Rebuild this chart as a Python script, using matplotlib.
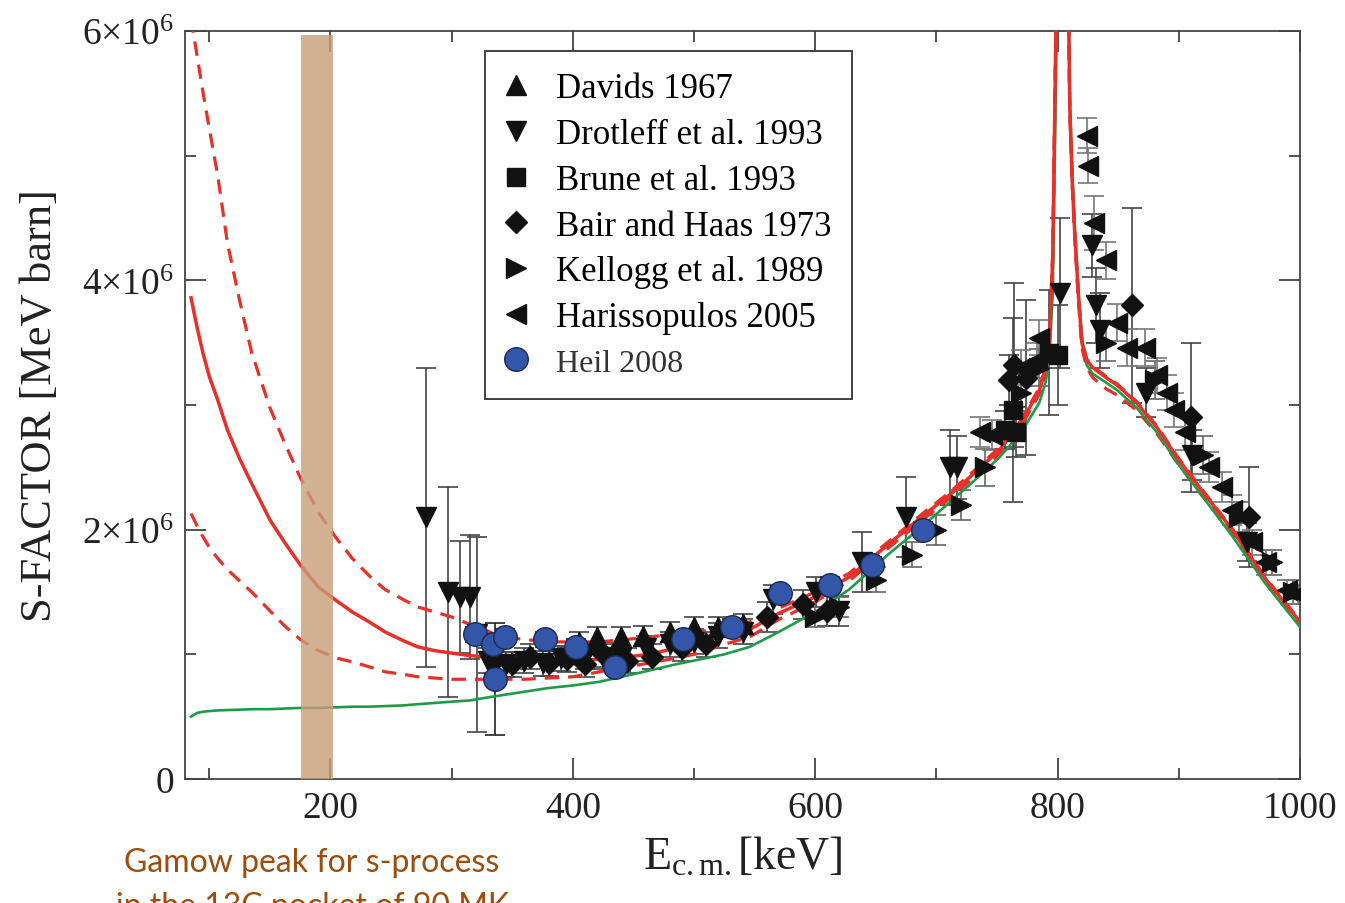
import matplotlib
matplotlib.use("Agg")
import matplotlib.pyplot as plt
from matplotlib.lines import Line2D
from matplotlib.ticker import FixedLocator, FixedFormatter

plt.rcParams['font.family'] = ['Liberation Serif', 'DejaVu Serif']
plt.rcParams['mathtext.fontset'] = 'custom'
plt.rcParams['mathtext.rm'] = 'Liberation Serif'
plt.rcParams['mathtext.it'] = 'Liberation Serif:italic'

# ---- fit curves (S in units of 1e6 MeV barn) ----
E_fit = [85, 90, 95, 100, 107, 115, 125, 135, 150, 162, 175, 190, 205, 218, 232, 245, 260, 272,
         286, 300, 315, 327, 340, 360, 380, 400, 422, 445, 463, 485, 505, 525, 546,
         570, 600, 628, 660, 690, 711, 732, 752, 770, 785, 790, 793, 796, 798, 800,
         804, 808, 810, 812, 814, 817, 820, 824, 829, 840, 849, 865, 882, 900, 917,
         944, 972, 1000]
S_fit = [3.86, 3.62, 3.41, 3.23, 3.04, 2.80, 2.57, 2.37, 2.08, 1.90, 1.72, 1.54, 1.43, 1.34, 1.26, 1.18, 1.11, 1.06,
         1.03, 1.01, 0.99, 0.98, 0.96, 0.95, 0.95, 0.95, 0.96, 0.98, 1.00, 1.05, 1.10, 1.15, 1.20,
         1.33, 1.46, 1.62, 1.88, 2.12, 2.28, 2.46, 2.64, 2.86, 3.12, 3.28, 3.44, 4.20, 5.60, 7.00,
         9.00, 7.00, 5.40, 4.80, 4.40, 3.90, 3.50, 3.36, 3.30, 3.22, 3.16, 3.02, 2.82, 2.56, 2.34,
         2.00, 1.60, 1.26]
S_fit_hi = [6.10, 5.80, 5.50, 5.22, 4.84, 4.30, 3.84, 3.42, 2.98, 2.70, 2.42, 2.14, 1.93, 1.77, 1.63, 1.52, 1.44, 1.38,
            1.34, 1.30, 1.24, 1.20, 1.14, 1.12, 1.10, 1.10, 1.10, 1.12, 1.14, 1.16, 1.18, 1.22, 1.26,
            1.37, 1.50, 1.65, 1.90, 2.14, 2.30, 2.48, 2.66, 2.88, 3.14, 3.30, 3.46, 4.22, 5.62, 7.00,
            9.00, 7.00, 5.42, 4.82, 4.42, 3.92, 3.52, 3.37, 3.31, 3.23, 3.17, 3.03, 2.83, 2.57, 2.35,
            2.01, 1.61, 1.27]
S_fit_lo = [2.13, 2.03, 1.94, 1.86, 1.77, 1.68, 1.59, 1.50, 1.35, 1.23, 1.12, 1.03, 0.97, 0.94, 0.90, 0.86, 0.84, 0.82,
            0.81, 0.80, 0.80, 0.80, 0.80, 0.80, 0.81, 0.82, 0.86, 0.90, 0.93, 0.97, 1.01, 1.08, 1.14,
            1.28, 1.42, 1.59, 1.85, 2.09, 2.25, 2.43, 2.61, 2.83, 3.09, 3.25, 3.41, 4.18, 5.58, 7.00,
            9.00, 7.00, 5.38, 4.78, 4.36, 3.86, 3.46, 3.30, 3.22, 3.13, 3.08, 2.96, 2.77, 2.52, 2.30,
            1.97, 1.57, 1.23]
S_green = [0.50, 0.53, 0.54, 0.545, 0.55, 0.553, 0.556, 0.56, 0.56, 0.565, 0.57, 0.57, 0.575, 0.58, 0.58, 0.585, 0.59, 0.60,
           0.61, 0.62, 0.63, 0.65, 0.67, 0.70, 0.73, 0.75, 0.78, 0.83, 0.87, 0.92, 0.96, 1.00, 1.06,
           1.18, 1.34, 1.52, 1.80, 2.04, 2.22, 2.40, 2.58, 2.78, 3.02, 3.18, 3.34, 3.90, 5.20, 6.80,
           9.00, 7.20, 5.50, 4.90, 4.45, 3.95, 3.55, 3.32, 3.25, 3.18, 3.12, 2.98, 2.78, 2.52, 2.30,
           1.95, 1.56, 1.22]

# ---- data sets ----
davids_E = [405, 420, 440, 458, 480, 500, 520, 540]
davids_S = [1.10, 1.14, 1.14, 1.15, 1.18, 1.22, 1.22, 1.24]
davids_err = [0.08, 0.08, 0.08, 0.08, 0.08, 0.08, 0.08, 0.08]

drot_E = [279, 297, 307, 315, 321, 330, 345, 360, 375, 390, 410, 425, 440, 460, 480, 500,
          520, 540, 565, 601, 620, 639, 675, 711, 717, 802, 828, 832, 835, 873, 911, 956]
drot_S = [2.10, 1.50, 1.46, 1.46, 1.16, 0.95, 0.92, 0.95, 0.93, 0.97, 0.98, 0.98, 0.97, 1.05,
          1.08, 1.10, 1.15, 1.18, 1.44, 1.50, 1.35, 1.74, 2.10, 2.50, 2.50, 3.90, 4.28, 3.80,
          3.60, 3.10, 2.60, 1.90]
drot_err = [1.20, 0.84, 0.45, 0.50, 0.78, 0.10, 0.10, 0.10, 0.10, 0.10, 0.10, 0.10, 0.10, 0.10,
            0.10, 0.10, 0.10, 0.10, 0.12, 0.12, 0.12, 0.24, 0.32, 0.30, 0.25, 0.60, 0.25, 0.30,
            0.30, 0.20, 0.20, 0.15]

brune_E = [757, 763, 766, 793, 800]
brune_S = [2.80, 2.96, 2.78, 3.42, 3.40]
brune_err = [0.15, 0.74, 0.20, 0.50, 0.40]

bair_E = [335, 350, 365, 380, 395, 410, 425, 445, 465, 490, 510, 560, 590, 610,
          760, 764, 774, 861, 910, 958]
bair_S = [0.95, 0.92, 0.98, 0.93, 0.96, 0.92, 1.00, 0.95, 0.98, 1.05, 1.08, 1.30, 1.40, 1.35,
          3.20, 3.32, 3.22, 3.80, 2.90, 2.10]
bair_err = [0.10, 0.10, 0.10, 0.10, 0.10, 0.10, 0.10, 0.10, 0.10, 0.10, 0.10, 0.12, 0.12, 0.12,
            0.20, 0.66, 0.62, 0.78, 0.60, 0.40]

kell_E = [600, 620, 650, 680, 700, 720, 740, 770, 785, 840, 880, 920, 950, 977, 994]
kell_S = [1.30, 1.38, 1.60, 1.80, 2.00, 2.20, 2.50, 3.10, 3.30, 3.50, 3.20, 2.60, 2.10, 1.74, 1.50]
kell_err = [0.08, 0.08, 0.10, 0.10, 0.12, 0.12, 0.15, 0.15, 0.15, 0.15, 0.15, 0.15, 0.12, 0.10, 0.10]

hari_E = [736, 746, 770, 783, 785, 824, 825, 830, 840, 849, 857, 872, 882, 890, 896, 905,
          925, 936, 944, 960, 972, 989, 998]
hari_S = [2.78, 2.76, 3.30, 3.36, 3.54, 5.16, 4.92, 4.46, 4.16, 3.66, 3.46, 3.46, 3.24, 3.10,
          2.96, 2.78, 2.50, 2.34, 2.16, 1.90, 1.74, 1.52, 1.48]
hari_err = [0.12, 0.12, 0.14, 0.14, 0.14, 0.14, 0.14, 0.22, 0.15, 0.15, 0.15, 0.15, 0.14, 0.14,
            0.14, 0.14, 0.12, 0.12, 0.12, 0.10, 0.10, 0.08, 0.08]

heil_E = [319, 334, 336, 344, 377, 403, 435, 491, 531, 571, 612, 647, 689]
heil_S = [1.16, 1.08, 0.80, 1.14, 1.12, 1.06, 0.90, 1.12, 1.22, 1.49, 1.56, 1.72, 2.00]
heil_err = [0.06, 0.06, 0.45, 0.06, 0.06, 0.06, 0.06, 0.06, 0.06, 0.06, 0.06, 0.06, 0.06]

labels = ['Davids 1967', 'Drotleff et al. 1993', 'Brune et al. 1993', 'Bair and Haas 1973',
          'Kellogg et al. 1989', 'Harissopulos 2005', 'Heil 2008']

fig = plt.figure(figsize=(13.45, 9.04), dpi=100)
ax = fig.add_axes([185 / 1345, 124 / 904, 1115 / 1345, 748 / 904])

red = '#E8302A'
green = '#1E9A48'

ax.plot(E_fit, S_fit_hi, color=red, lw=2.3, dashes=(4.5, 2.8), zorder=3)
ax.plot(E_fit, S_fit_lo, color=red, lw=2.3, dashes=(4.5, 2.8), zorder=3)
ax.plot(E_fit, S_green, color=green, lw=1.9, zorder=3)
ax.plot(E_fit, S_fit, color=red, lw=2.5, zorder=3)

# data with error bars
sets = [
    (davids_E, davids_S, davids_err, '^', '#111111', '#444444'),
    (drot_E, drot_S, drot_err, 'v', '#111111', '#444444'),
    (brune_E, brune_S, brune_err, 's', '#111111', '#444444'),
    (bair_E, bair_S, bair_err, 'D', '#111111', '#444444'),
    (kell_E, kell_S, kell_err, '>', '#111111', '#666666'),
    (hari_E, hari_S, hari_err, '<', '#111111', '#777777'),
]
msizes = [15, 15, 13, 11, 14, 14]
for (E, S, err, m, c, ec), ms in zip(sets, msizes):
    ax.errorbar(E, S, yerr=err, fmt='none', ecolor=ec, elinewidth=1.2, capsize=7, capthick=1.2, zorder=2)
    ax.plot(E, S, ls='none', marker=m, ms=ms, color=c, mec=c, zorder=4)

ax.errorbar(heil_E, heil_S, yerr=heil_err, fmt='none', ecolor='#222222', elinewidth=1.2,
            capsize=7, capthick=1.2, zorder=2)
ax.plot(heil_E, heil_S, ls='none', marker='o', ms=17, color='#3356A8', mec='#1a2a55',
        mew=1.0, zorder=5)

# Gamow window band
ax.axvspan(176, 202, ymin=0, ymax=0.995, color='#C89F79', alpha=0.8, lw=0, zorder=6)

ax.set_xlim(80, 1000)
ax.set_ylim(0, 6)

ax.xaxis.set_major_locator(FixedLocator([200, 400, 600, 800, 1000]))
ax.xaxis.set_minor_locator(FixedLocator([100, 300, 500, 700, 900]))
ax.yaxis.set_major_locator(FixedLocator([0, 2, 4, 6]))
ax.yaxis.set_major_formatter(FixedFormatter(['0', r'$2{\times}10^{6}$', r'$4{\times}10^{6}$', r'$6{\times}10^{6}$']))
ax.yaxis.set_minor_locator(FixedLocator([1, 3, 5]))
ax.tick_params(which='both', direction='in', top=True, right=True, color='#333333', width=1.2)
ax.tick_params(which='major', length=15, labelsize=27, pad=8, labelcolor='#222222')
ax.tick_params(which='minor', length=8)
for sp in ax.spines.values():
    sp.set_color('#444444')
    sp.set_linewidth(1.3)

ax.set_ylabel('S-FACTOR [MeV barn]', fontsize=32, color='#222222', labelpad=16)
ax.set_xlabel(r'E$_{\mathrm{c.m.}}$[keV]', fontsize=33, color='#222222', labelpad=8)

# legend
handles = [
    Line2D([], [], ls='none', marker='^', ms=15, color='#111111'),
    Line2D([], [], ls='none', marker='v', ms=15, color='#111111'),
    Line2D([], [], ls='none', marker='s', ms=13, color='#111111'),
    Line2D([], [], ls='none', marker='D', ms=11, color='#111111'),
    Line2D([], [], ls='none', marker='>', ms=14, color='#111111'),
    Line2D([], [], ls='none', marker='<', ms=14, color='#111111'),
    Line2D([], [], ls='none', marker='o', ms=17, color='#3356A8', mec='#1a2a55'),
]
leg = ax.legend(handles, labels, loc='upper left', bbox_to_anchor=(0.269, 0.973),
                borderaxespad=0, fontsize=25, frameon=True, fancybox=False,
                edgecolor='#333333', framealpha=1, handlelength=0.6, handletextpad=0.85,
                labelspacing=0.37, borderpad=0.6)
leg.get_frame().set_linewidth(1.3)
leg.set_zorder(10)
leg.get_texts()[-1].set_fontsize(23)
leg.get_texts()[-1].set_color('#333333')

# annotation below the axes (second line clipped by the figure edge, as in the source)
fig.text(312 / 1345, 1 - 848 / 904, 'Gamow peak for s-process', family=['Lato', 'DejaVu Sans'],
         fontsize=23, color='#9C4C0C', ha='center', va='top')
fig.text(312 / 1345, 1 - 892 / 904, 'in the 13C pocket of 90 MK', family=['Lato', 'DejaVu Sans'],
         fontsize=23, color='#9C4C0C', ha='center', va='top')

fig.savefig('out.png', dpi=100)
